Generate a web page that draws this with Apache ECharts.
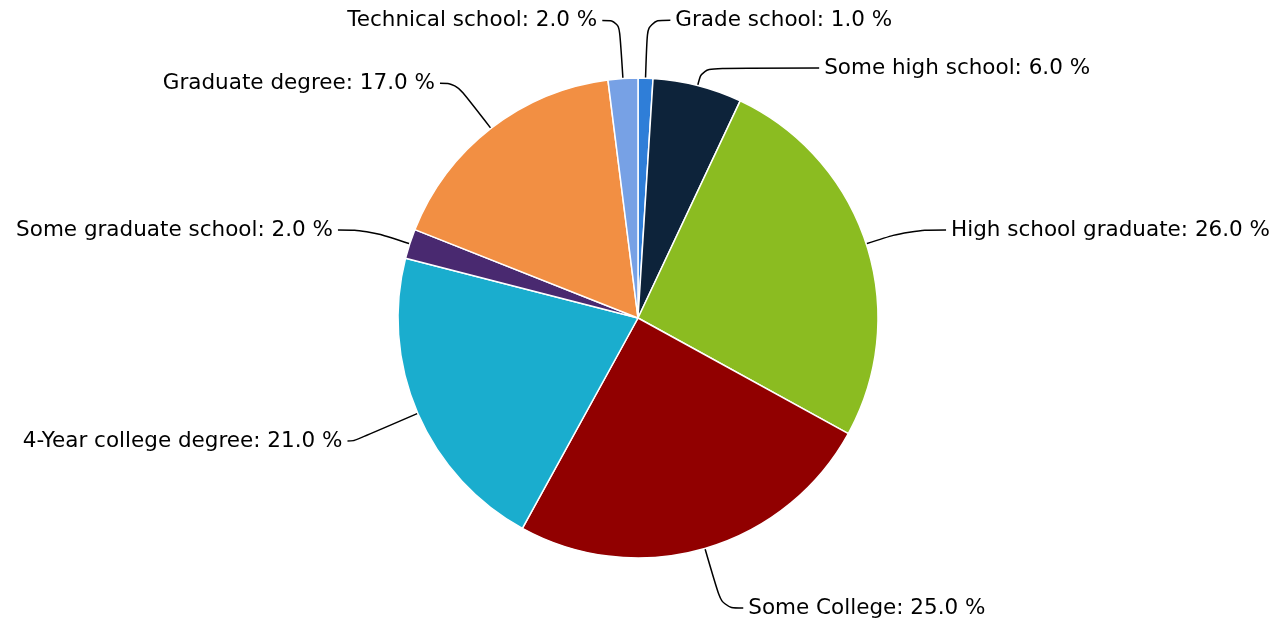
<!DOCTYPE html>
<html>
<head>
<meta charset="utf-8">
<script src="https://cdn.jsdelivr.net/npm/echarts@6/dist/echarts.min.js"></script>
<style>
  html, body { margin: 0; padding: 0; background: #fff; }
  #chart { width: 1281px; height: 626px; }
</style>
</head>
<body>
<div id="chart"></div>
<script>
var categories = ['Grade school', 'Some high school', 'High school graduate', 'Some College',
  '4-Year college degree', 'Some graduate school', 'Graduate degree', 'Technical school'];
var shares = [1.0, 6.0, 26.0, 25.0, 21.0, 2.0, 17.0, 2.0];
var colors = ['#2f7ed8', '#0d233a', '#8bbc21', '#910000', '#1aadce', '#492970', '#f28f43', '#77a1e5'];
// connector lengths (radial part, horizontal part) per slice
var lineLen = [58, 18, 45, 62, 70, 45, 57, 58];
var lineLen2 = [23, 117, 37, 21, 6, 29, 16, 17];

var chart = echarts.init(document.getElementById('chart'));
var pieData = categories.map(function (name, i) {
  return {
    name: name,
    value: shares[i],
    itemStyle: { color: colors[i] },
    labelLine: { length: lineLen[i], length2: lineLen2[i] }
  };
});

var option = {
  backgroundColor: '#fff',
  animation: false,
  series: [{
    type: 'pie',
    center: [638, 318],
    radius: 240,
    startAngle: 90,
    clockwise: true,
    avoidLabelOverlap: false,
    data: pieData,
    itemStyle: {
      borderColor: '#fff',
      borderWidth: 1.5
    },
    label: {
      show: true,
      fontFamily: 'DejaVu Sans',
      fontSize: 21.5,
      color: '#000',
      distanceToLabelLine: 5,
      formatter: function (p) {
        return p.name + ': ' + p.value.toFixed(1) + ' %';
      }
    },
    labelLine: {
      show: true,
      smooth: 0.4,
      lineStyle: { color: '#000', width: 1.5 }
    }
  }]
};

chart.setOption(option);
</script>
</body>
</html>
